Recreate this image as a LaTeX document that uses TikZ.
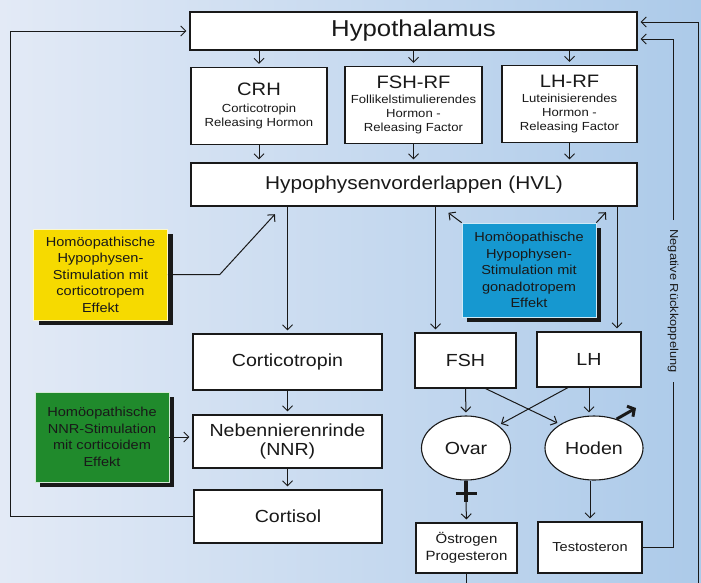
\documentclass[tikz,border=0pt]{standalone}
\usepackage{fontspec}
\setmainfont{Liberation Sans}[FakeStretch=1.12]
\usetikzlibrary{shapes.geometric,arrows.meta,positioning,calc,shadows}
\definecolor{bgleft}{RGB}{227,234,246}
\definecolor{bgright}{RGB}{172,202,233}
\definecolor{homyellow}{RGB}{246,218,0}
\definecolor{homgreen}{RGB}{32,138,44}
\definecolor{homblue}{RGB}{22,152,208}
\definecolor{ink}{RGB}{25,25,25}
\newcommand{\setfs}[2]{\fontsize{#1}{#2}\selectfont}

\begin{document}
\begin{tikzpicture}[x=1pt, y=-1pt,
  box/.style={rectangle, draw=ink, line width=1.1pt, fill=white, inner sep=0pt,
    align=center, text=ink},
  oval/.style={ellipse, draw=ink, line width=1.1pt, fill=white, inner sep=0pt,
    minimum height=64pt, text=ink, font=\setfs{17.5}{20}},
  hom/.style={rectangle, fill=#1, draw=white!80!#1, line width=0.6pt, minimum width=134pt,
    inner sep=0pt, align=center, text=ink, font=\setfs{13}{16.5},
    general shadow={fill=black!90, shadow xshift=5pt, shadow yshift=-5pt}},
  arr/.style={-{Straight Barb[length=5pt, width=10pt]}, line width=1pt, draw=ink, shorten >=3pt},
  wire/.style={line width=1pt, draw=ink},
  sym/.style={line width=3.2pt, draw=ink},
  male/.style={line width=3pt, draw=ink, -{Straight Barb[length=5pt, width=12pt]}}
]
\useasboundingbox (0,0) rectangle (701,582);
\shade[left color=bgleft, right color=bgright] (0,0) rectangle (701,582);

\node[box, minimum width=447pt, minimum height=38pt, font=\setfs{23}{26}] (hyp) at (413.5,31) {Hypothalamus};
\node[box, minimum width=136pt, minimum height=77pt, font=\setfs{11.7}{14}] (crh) at (259,106)
  {{\setfs{18}{20}CRH}\\[3pt]Corticotropin\\Releasing Hormon};
\node[box, minimum width=137pt, minimum height=77pt, font=\setfs{11.7}{14}] (fshrf) at (413.5,105)
  {{\setfs{18}{20}FSH-RF}\\[1pt]Follikelstimulierendes\\Hormon -\\Releasing Factor};
\node[box, minimum width=135pt, minimum height=77pt, font=\setfs{11.7}{14}] (lhrf) at (569.5,104)
  {{\setfs{18}{20}LH-RF}\\[1pt]Luteinisierendes\\Hormon -\\Releasing Factor};
\node[box, minimum width=446pt, minimum height=43pt, font=\setfs{18.6}{22}] (hvl) at (414,184.5) {Hypophysenvorderlappen (HVL)};

\node[box, minimum width=189pt, minimum height=56pt, font=\setfs{17.5}{19}] (cort) at (287.5,362) {Corticotropin};
\node[box, minimum width=189pt, minimum height=53pt, font=\setfs{17.5}{19}] (nnr) at (287.5,441.5) {Nebennierenrinde\\(NNR)};
\node[box, minimum width=188pt, minimum height=53pt, font=\setfs{17.5}{19}] (cortisol) at (288,516.5) {Cortisol};

\node[box, minimum width=101pt, minimum height=55pt, font=\setfs{17.5}{19}] (fsh) at (465.5,360.5) {FSH};
\node[box, minimum width=104pt, minimum height=55pt, font=\setfs{17.5}{19}] (lh) at (589,359.5) {LH};
\node[oval, minimum width=89pt] (ovar) at (466,448) {Ovar};
\node[oval, minimum width=98pt] (hoden) at (594,448) {Hoden};
\node[box, minimum width=101pt, minimum height=50pt, font=\setfs{13.4}{17}] (oest) at (466.5,548) {Östrogen\\Progesteron};
\node[box, minimum width=104pt, minimum height=51pt, font=\setfs{13}{16}] (testo) at (590,547.5) {Testosteron};

\node[hom=homyellow, minimum height=91pt] (yel) at (100.5,274.5)
  {Homöopathische\\Hypophysen-\\Stimulation mit\\corticotropem\\Effekt};
\node[hom=homgreen, minimum height=90pt] (grn) at (102,437)
  {Homöopathische\\NNR-Stimulation\\mit corticoidem\\Effekt};
\node[hom=homblue, minimum height=94pt] (blu) at (529,270)
  {Homöopathische\\Hypophysen-\\Stimulation mit\\gonadotropem\\Effekt};

\node[rotate=-90, font=\setfs{11.5}{13}, text=ink, inner sep=9pt] (neg) at (673,301) {Negative Rückkoppelung};

\foreach \n in {crh,fshrf,lhrf} {
  \draw[arr] (hyp.south -| \n) -- (\n.north);
  \draw[arr] (\n.south) -- (\n.south |- hvl.north);
}
\draw[arr] (hvl.south -| cort) -- (cort.north);
\draw[arr] (cort.south) -- (nnr.north);
\draw[arr] (nnr.south) -- (nnr.south |- cortisol.north);

\coordinate (ytip) at (277,212);
\draw[arr] (yel.east) -- ++(52,0) -- (ytip);
\draw[arr] (grn.east) -- (grn.east -| nnr.west);

\coordinate (lfb) at (10,0);
\draw[arr] (cortisol.west) -- (cortisol.west -| lfb) |- (hyp.west);

\path ([xshift=-30pt]fsh.north) coordinate (fshin) ([xshift=28pt]lh.north) coordinate (lhin);
\draw[arr] (hvl.south -| fshin) -- (fshin);
\draw[arr] (hvl.south -| lhin) -- (lhin);

\coordinate (bltip) at (446,211);
\coordinate (brtip) at (608,210);
\draw[arr] (blu.north west) -- (bltip);
\draw[arr] (blu.north east) -- (brtip);

\draw[arr] (fsh.south) -- (ovar.north);
\draw[arr] ([xshift=20pt]fsh.south) -- (hoden.145);
\draw[arr] ([xshift=-21pt]lh.south) -- (ovar.35);
\draw[arr] (lh.south) -- (lh.south |- hoden.north);

\coordinate (mtip) at (636,408);
\draw[male] (hoden.52) -- (mtip);
\draw[sym] (ovar.south) -- ++(0,21) coordinate (fend);
\draw[sym] ($(ovar.south)+(-10.5,13)$) -- ++(21,0);
\draw[arr] (fend) -- (oest.north);
\draw[arr] (hoden.south -| testo) -- (testo.north);

\path ([yshift=-8pt]hyp.east) coordinate (hypin) ([yshift=9pt]hyp.east) coordinate (hypout);
\draw[wire] (testo.east) -| (neg.east);
\draw[arr] (neg.west) |- (hypin);

\coordinate (corner) at (698,600);
\draw[arr] (oest.south) -- (oest.south |- corner) -- (corner) |- (hypout);
\end{tikzpicture}
\end{document}
